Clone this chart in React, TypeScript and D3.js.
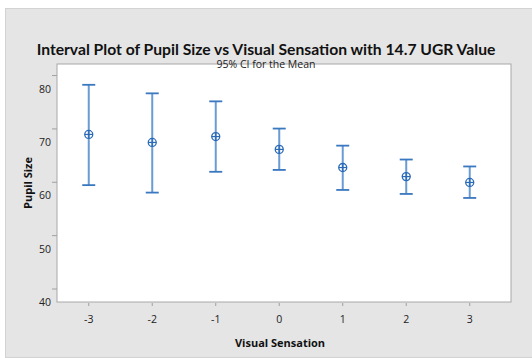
import React, { useRef, useEffect } from 'react';
import * as d3 from 'd3';

// Visual Sensation levels and 95% CI of pupil size
const sensations = [-3, -2, -1, 0, 1, 2, 3];
const means = [71.4, 69.9, 71.0, 68.6, 65.2, 63.5, 62.4];
const upper = [80.7, 79.1, 77.6, 72.5, 69.3, 66.7, 65.4];
const lower = [61.9, 60.5, 64.4, 64.75, 61.0, 60.25, 59.5];
const yTicks = [40, 50, 60, 70, 80];

const W = 532;
const H = 358;

const App = () => {
  const svgRef = useRef<SVGSVGElement>(null);

  useEffect(() => {
    const svg = d3.select(svgRef.current);
    svg.selectAll('*').remove();

    const left = 57, right = 511, top = 64, bottom = 302;
    const font = "'Open Sans', 'Noto Sans', sans-serif";

    // outer panel
    svg.append('rect').attr('width', W).attr('height', H).attr('fill', '#fff');
    svg.append('rect')
      .attr('x', 5.5).attr('y', 8.5).attr('width', W).attr('height', 349)
      .attr('fill', '#e5e5e5').attr('stroke', '#d2d2d2');

    const x = d3.scaleLinear().domain([-3.5, 3.65]).range([left, right]);
    const y = d3.scaleLinear().domain([40, 84.6]).range([bottom, top]);

    // plot area
    svg.append('rect')
      .attr('x', left).attr('y', top).attr('width', right - left).attr('height', bottom - top)
      .attr('fill', '#fff').attr('stroke', '#a8a8a8').attr('stroke-width', 1);

    // x axis
    const gx = svg.append('g').attr('transform', `translate(0,${bottom})`);
    gx.selectAll('line').data(sensations).enter().append('line')
      .attr('x1', d => x(d)).attr('x2', d => x(d)).attr('y1', 1).attr('y2', 4)
      .attr('stroke', '#a0a0a0');
    gx.selectAll('text').data(sensations).enter().append('text')
      .attr('x', d => x(d)).attr('y', 21)
      .attr('text-anchor', 'middle')
      .style('font-family', font).style('font-size', '10.5px').attr('fill', '#222')
      .text(d => d);

    // y axis (labels sit a little below their tick marks, as in the source)
    const gy = svg.append('g');
    gy.selectAll('line').data(yTicks).enter().append('line')
      .attr('x1', left - 5).attr('x2', left)
      .attr('y1', d => y(d) - 13).attr('y2', d => y(d) - 13)
      .attr('stroke', '#a0a0a0');
    gy.selectAll('text').data(yTicks).enter().append('text')
      .attr('x', 51).attr('y', d => y(d) + 4)
      .attr('text-anchor', 'end')
      .style('font-family', font).style('font-size', '10.5px').attr('fill', '#222')
      .text(d => d);

    // titles
    const title = svg.append('text')
      .attr('x', 266).attr('y', 55).attr('text-anchor', 'middle')
      .style('font-family', "Lato, 'Open Sans', sans-serif").style('font-size', '16px').style('font-weight', 'bold')
      .attr('fill', '#111')
      .text('Interval Plot of Pupil Size vs Visual Sensation with 14.7 UGR Value');
    // fit the title to the width seen in the source
    const tw = (title.node() as SVGTextElement).getComputedTextLength();
    if (tw > 0) title.style('font-size', `${(16 * 459 / tw).toFixed(2)}px`);

    svg.append('text')
      .attr('x', 266).attr('y', 68).attr('text-anchor', 'middle')
      .style('font-family', font).style('font-size', '10.5px').attr('fill', '#222')
      .text('95% CI for the Mean');
    svg.append('text')
      .attr('x', 280).attr('y', 347).attr('text-anchor', 'middle')
      .style('font-family', font).style('font-size', '11px').style('font-weight', 'bold')
      .attr('fill', '#111')
      .text('Visual Sensation');
    svg.append('text')
      .attr('transform', `translate(32,${(top + bottom) / 2}) rotate(-90)`)
      .attr('text-anchor', 'middle')
      .style('font-family', font).style('font-size', '11px').style('font-weight', 'bold')
      .attr('fill', '#111')
      .text('Pupil Size');

    // interval bars
    const rows = sensations.map((s, i) => ({ s, m: means[i], hi: upper[i], lo: lower[i] }));
    const g = svg.append('g');
    g.selectAll('.bar').data(rows).enter().append('line')
      .attr('x1', d => x(d.s)).attr('x2', d => x(d.s))
      .attr('y1', d => y(d.hi)).attr('y2', d => y(d.lo))
      .attr('stroke', '#6a9bd3').attr('stroke-width', 2);
    ['hi', 'lo'].forEach(k => {
      g.selectAll('.cap-' + k).data(rows).enter().append('line')
        .attr('x1', d => x(d.s) - 6.5).attr('x2', d => x(d.s) + 6.5)
        .attr('y1', d => y(d[k])).attr('y2', d => y(d[k]))
        .attr('stroke', '#3a78c0').attr('stroke-width', 1.8);
    });
    const pts = g.selectAll('.pt').data(rows).enter().append('g')
      .attr('transform', d => `translate(${x(d.s)},${y(d.m)})`);
    pts.append('circle').attr('r', 4).attr('fill', 'none')
      .attr('stroke', '#2a6ab6').attr('stroke-width', 1.3);
    pts.append('line').attr('x1', -4).attr('x2', 4).attr('stroke', '#2a6ab6').attr('stroke-width', 1.2);
    pts.append('line').attr('y1', -4).attr('y2', 4).attr('stroke', '#2a6ab6').attr('stroke-width', 1.2);
  }, []);

  return (
    <svg ref={svgRef} width={W} height={H}
      style={{ position: 'absolute', left: 0, top: 0, display: 'block' }} />
  );
};

export default App;
